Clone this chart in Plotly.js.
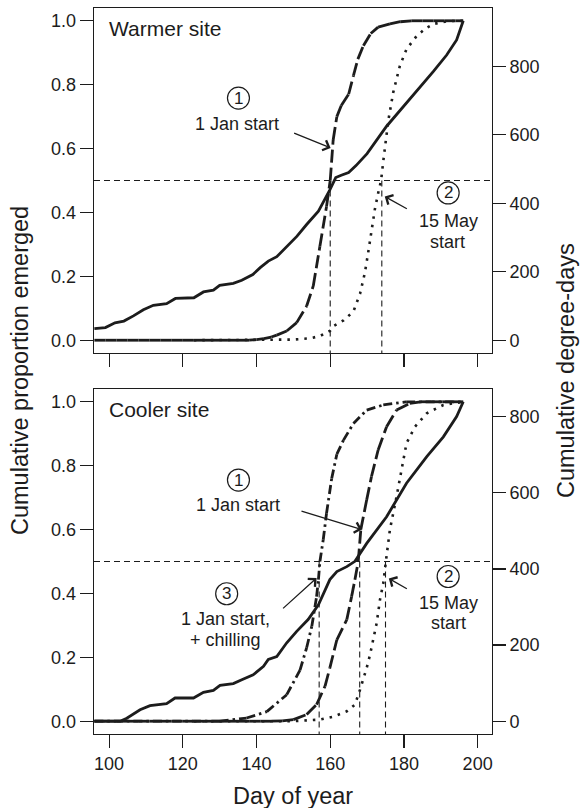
<!DOCTYPE html>
<html>
<head>
<meta charset="utf-8">
<script src="https://cdn.plot.ly/plotly-3.0.1.min.js"></script>
<style>html,body{margin:0;padding:0;background:#fff;}#chart{width:584px;height:808px;}</style>
</head>
<body>
<div id="chart"></div>
<script>
// ---------------- DATA ----------------
const dayTicks = [100, 120, 140, 160, 180, 200];
const propTicks = [0, 0.2, 0.4, 0.6, 0.8, 1.0];
const propTickText = ['0.0', '0.2', '0.4', '0.6', '0.8', '1.0'];
const ddTicks = [0, 200, 400, 600, 800];
const ddTickText = ['0', '200', '400', '600', '800'];
const halfLevel = 0.5;

// Warmer site: cumulative degree-days (right axis)
const warmDDDay = [96, 99, 101.6, 104, 106.6, 109.3, 112, 115.6, 118, 123, 125.6, 128.3, 130, 133.7, 136, 139, 141, 143.2, 145.5, 148.2, 151, 153.6, 156.8, 159.9, 161.5, 163, 165, 167, 170, 175.3, 180, 184, 188, 191.6, 194.3, 196.1];
const warmDD    = [34, 37, 51, 56, 71, 89, 102, 107, 122, 124, 141, 146, 160, 166, 175, 192, 212, 231, 244, 274, 304, 338, 377, 439, 475, 482, 490, 510, 545, 625, 684, 734, 785, 833, 877, 933];
// Warmer site: 1 Jan start (proportion emerged)
const warmJanDay = [96, 99, 102, 105, 108, 111, 114, 117, 120, 123, 126, 129, 132, 135, 138, 140, 142, 144, 145.5, 148.2, 150.9, 153.6, 155.4, 157.2, 159, 160, 160.8, 161.8, 163, 165, 166.3, 167.5, 169, 171, 173, 176.2, 179, 182, 185, 188, 191, 194, 196.1];
const warmJan    = [0, 0, 0, 0, 0, 0, 0, 0, 0, 0, 0, 0, 0, 0, 0, 0.002, 0.005, 0.01, 0.016, 0.029, 0.055, 0.107, 0.17, 0.294, 0.419, 0.5, 0.627, 0.7, 0.735, 0.77, 0.828, 0.88, 0.922, 0.96, 0.98, 0.99, 0.997, 1, 1, 1, 1, 1, 1];
// Warmer site: 15 May start
const warmMayDay = [123, 150, 154.5, 157.2, 160, 161, 163.6, 166.3, 168.1, 169.4, 170.3, 171.2, 172.1, 173, 173.8, 174.6, 175.8, 177.1, 178.9, 180.7, 183.5, 186, 188, 192, 196.1];
const warmMay    = [0, 0.002, 0.006, 0.013, 0.03, 0.045, 0.062, 0.09, 0.146, 0.211, 0.274, 0.347, 0.409, 0.46, 0.5, 0.58, 0.69, 0.776, 0.859, 0.911, 0.953, 0.977, 0.99, 0.999, 1];
const warmCross = [160, 174];

// Cooler site: cumulative degree-days (right axis)
const coolDDDay = [96, 100, 103, 104.8, 108.4, 111.1, 115.6, 117.9, 122.9, 125.6, 128.3, 130.1, 133.7, 136, 139.1, 141.9, 143.2, 145.5, 148.2, 150.9, 154, 156.8, 159.9, 161.8, 164.5, 166.7, 169.9, 175.3, 180.7, 186.2, 190.7, 194.3, 196.1];
const coolDD    = [0, 0, 0, 8, 30, 41, 46, 61, 61, 76, 81, 94, 99, 109, 122, 144, 162, 170, 206, 236, 267, 306, 372, 393, 406, 420, 467, 537, 625, 695, 747, 800, 839];
// Cooler site: 1 Jan start
const coolJanDay = [96, 99, 102, 105, 108, 111, 114, 117, 120, 123, 126, 129, 132, 135, 138, 141, 144, 147, 150, 153.6, 156.3, 158.6, 159.9, 161.8, 164.5, 165.8, 166.7, 167.6, 168.3, 169.9, 171.2, 173, 175.3, 178, 181.6, 184.5, 187.5, 190.5, 193.5, 196.1];
const coolJan    = [0, 0, 0, 0, 0, 0, 0, 0, 0, 0, 0, 0, 0, 0, 0, 0, 0, 0.001, 0.005, 0.021, 0.052, 0.11, 0.167, 0.255, 0.318, 0.39, 0.443, 0.5, 0.6, 0.693, 0.766, 0.849, 0.922, 0.974, 0.995, 1, 1, 1, 1, 1];
// Cooler site: 1 Jan start + chilling
const coolChillDay = [96, 130, 137.3, 142.8, 148.2, 151.8, 153.6, 155, 156.3, 156.8, 157.2, 158.1, 159, 160.4, 161.8, 163.6, 166.3, 169.9, 174.4, 180.6, 196.1];
const coolChill    = [0, 0, 0.01, 0.03, 0.083, 0.16, 0.23, 0.297, 0.39, 0.443, 0.5, 0.568, 0.651, 0.76, 0.836, 0.88, 0.932, 0.974, 0.99, 1, 1];
// Cooler site: 15 May start
const coolMayDay = [123, 150, 157.2, 160.8, 164.5, 166.7, 168.1, 169, 169.9, 170.8, 171.7, 172.6, 173.5, 174.4, 175.1, 175.6, 176.2, 178, 179.4, 180.7, 183, 186.2, 190.7, 196.1];
const coolMay    = [0, 0, 0.005, 0.014, 0.031, 0.052, 0.099, 0.13, 0.167, 0.208, 0.26, 0.307, 0.38, 0.432, 0.5, 0.547, 0.6, 0.703, 0.786, 0.87, 0.922, 0.964, 0.99, 1];
const coolCross = [157, 168, 175];

// ---------------- STYLE ----------------
const INK = '#1c1c1c';
const FONT = 'Liberation Sans, Arial, Helvetica, sans-serif';
const PAD = 0.04;
const xRange = [95.9, 203.9];
const yRange = [-PAD, 1 + PAD];

// split a line into separate segments so the dash pattern restarts on each one
function segmented(xs, ys) {
  const X = [], Y = [];
  for (let i = 0; i < xs.length - 1; i++) {
    X.push(xs[i], xs[i + 1], null);
    Y.push(ys[i], ys[i + 1], null);
  }
  return {x: X, y: Y};
}

function line(x, y, xa, ya, dash, width) {
  return {type: 'scatter', mode: 'lines', x: x, y: y, xaxis: xa, yaxis: ya,
    connectgaps: false, hoverinfo: 'skip', showlegend: false,
    line: {color: INK, width: width || 2.8, dash: dash || 'solid'}};
}

const wJ = segmented(warmJanDay, warmJan);
const cJ = segmented(coolJanDay, coolJan);
const cC = segmented(coolChillDay, coolChill);

const traces = [
  line(warmDDDay, warmDD, 'x', 'y2', 'solid'),
  line(wJ.x, wJ.y, 'x', 'y', '13px,5px'),
  line(warmMayDay, warmMay, 'x', 'y', '2.5px,6px', 2.6),
  line(coolDDDay, coolDD, 'x2', 'y4', 'solid'),
  line(cJ.x, cJ.y, 'x2', 'y3', '13px,5px'),
  line(cC.x, cC.y, 'x2', 'y3', '9px,4px,2.5px,4px'),
  line(coolMayDay, coolMay, 'x2', 'y3', '2.5px,6px', 2.6)
];

const xL = 94 / 584, xR = 492 / 584;
const topDom = [1 - 353 / 808, 1 - 8 / 808];
const botDom = [1 - 734 / 808, 1 - 389 / 808];

const tickFont = {family: FONT, size: 18, color: INK};
function xAxis(anchor, showLabels) {
  return {domain: [xL, xR], anchor: anchor, range: xRange, tickvals: dayTicks,
    ticktext: dayTicks.map(String), showticklabels: showLabels,
    ticks: 'outside', ticklen: 13, tickwidth: 1.2, tickcolor: INK,
    showline: true, mirror: true, linecolor: INK, linewidth: 1.3,
    showgrid: false, zeroline: false, tickfont: tickFont, fixedrange: true};
}
function yLeft(anchor, dom) {
  return {domain: dom, anchor: anchor, range: yRange, tickvals: propTicks, ticktext: propTickText,
    ticks: 'outside', ticklen: 13, tickwidth: 1.2, tickcolor: INK,
    showline: true, mirror: true, linecolor: INK, linewidth: 1.3,
    showgrid: false, zeroline: false, tickfont: tickFont, fixedrange: true};
}
function yRight(anchor, over, maxDD) {
  return {overlaying: over, side: 'right', anchor: anchor,
    range: [-PAD * maxDD, (1 + PAD) * maxDD], tickvals: ddTicks, ticktext: ddTickText,
    ticks: 'outside', ticklen: 13, tickwidth: 1.2, tickcolor: INK,
    showline: false, showgrid: false, zeroline: false, tickfont: tickFont, fixedrange: true};
}

const shapes = [];
const refLine = {color: INK, width: 1.1, dash: '6px,4px'};
// horizontal 50% lines
shapes.push({type: 'line', xref: 'x domain', yref: 'y', x0: 0, x1: 1, y0: halfLevel, y1: halfLevel, line: refLine});
shapes.push({type: 'line', xref: 'x2 domain', yref: 'y3', x0: 0, x1: 1, y0: halfLevel, y1: halfLevel, line: refLine});
warmCross.forEach(d => shapes.push({type: 'line', xref: 'x', yref: 'y', x0: d, x1: d, y0: halfLevel, y1: yRange[0], line: refLine}));
coolCross.forEach(d => shapes.push({type: 'line', xref: 'x2', yref: 'y3', x0: d, x1: d, y0: halfLevel, y1: yRange[0], line: refLine}));

const annotations = [];
const annFont = {family: FONT, size: 18, color: INK};
function circ(xr, yr, x, y, label) {
  shapes.push({type: 'circle', xref: xr, yref: yr, xsizemode: 'pixel', ysizemode: 'pixel',
    xanchor: x, yanchor: y, x0: -11, x1: 11, y0: -11, y1: 11,
    line: {color: INK, width: 1.2}, fillcolor: 'rgba(0,0,0,0)'});
  annotations.push({xref: xr, yref: yr, x: x, y: y, text: label, showarrow: false,
    xanchor: 'center', yanchor: 'middle', font: {family: FONT, size: 17, color: INK}});
}
function txt(xr, yr, x, y, t) {
  annotations.push({xref: xr, yref: yr, x: x, y: y, text: t, showarrow: false,
    xanchor: 'center', yanchor: 'middle', font: annFont});
}
function arrow(xr, yr, tx, ty, hx, hy) {
  annotations.push({xref: xr, yref: yr, axref: xr, ayref: yr, x: hx, y: hy, ax: tx, ay: ty,
    text: '', showarrow: true, arrowhead: 4, arrowsize: 1.6, arrowwidth: 1.3, arrowcolor: INK,
    standoff: 0, startstandoff: 0});
}

// Warmer site labels
annotations.push({xref: 'x domain', yref: 'y domain', x: 0.032, y: 0.941, text: 'Warmer site', showarrow: false,
  xanchor: 'left', yanchor: 'middle', font: {family: FONT, size: 21, color: INK}});
circ('x', 'y', 135.1, 0.758, '1');
txt('x', 'y', 134.6, 0.6775, '1 Jan start');
arrow('x', 'y', 149.8, 0.650, 160.1, 0.602);
circ('x', 'y', 192.0, 0.461, '2');
txt('x', 'y', 192.0, 0.3725, '15 May');
txt('x', 'y', 191.9, 0.307, 'start');
arrow('x', 'y', 181.2, 0.409, 174.8, 0.450);

// Cooler site labels
annotations.push({xref: 'x2 domain', yref: 'y3 domain', x: 0.032, y: 0.942, text: 'Cooler site', showarrow: false,
  xanchor: 'left', yanchor: 'middle', font: {family: FONT, size: 21, color: INK}});
circ('x2', 'y3', 135.1, 0.755, '1');
txt('x2', 'y3', 135.1, 0.677, '1 Jan start');
arrow('x2', 'y3', 151.8, 0.659, 168.6, 0.600);
circ('x2', 'y3', 131.9, 0.399, '3');
txt('x2', 'y3', 131.5, 0.32, '1 Jan start,');
txt('x2', 'y3', 131.5, 0.253, '+ chilling');
arrow('x2', 'y3', 146.8, 0.349, 156.3, 0.448);
circ('x2', 'y3', 192.0, 0.453, '2');
txt('x2', 'y3', 192.0, 0.37, '15 May');
txt('x2', 'y3', 192.0, 0.3075, 'start');
arrow('x2', 'y3', 181.2, 0.412, 175.9, 0.447);

// axis titles
const titleFont = {family: FONT, size: 23.5, color: INK};
annotations.push({xref: 'paper', yref: 'paper', x: 20 / 584, y: 1 - 371 / 808, text: 'Cumulative proportion emerged',
  textangle: -90, showarrow: false, xanchor: 'center', yanchor: 'middle', font: titleFont});
annotations.push({xref: 'paper', yref: 'paper', x: 566 / 584, y: 1 - 371 / 808, text: 'Cumulative degree-days',
  textangle: -90, showarrow: false, xanchor: 'center', yanchor: 'middle', font: titleFont});
annotations.push({xref: 'paper', yref: 'paper', x: 293 / 584, y: 1 - 796 / 808, text: 'Day of year',
  showarrow: false, xanchor: 'center', yanchor: 'middle', font: titleFont});

const layout = {
  width: 584, height: 808,
  margin: {l: 0, r: 0, t: 0, b: 0, pad: 0},
  paper_bgcolor: '#fff', plot_bgcolor: '#fff',
  showlegend: false,
  font: {family: FONT, color: INK},
  xaxis: xAxis('y', false),
  yaxis: yLeft('x', topDom),
  yaxis2: yRight('x', 'y', warmDD[warmDD.length - 1]),
  xaxis2: xAxis('y3', true),
  yaxis3: yLeft('x2', botDom),
  yaxis4: yRight('x2', 'y3', coolDD[coolDD.length - 1]),
  shapes: shapes,
  annotations: annotations
};

Plotly.newPlot('chart', traces, layout, {staticPlot: true, displayModeBar: false});
</script>
</body>
</html>
